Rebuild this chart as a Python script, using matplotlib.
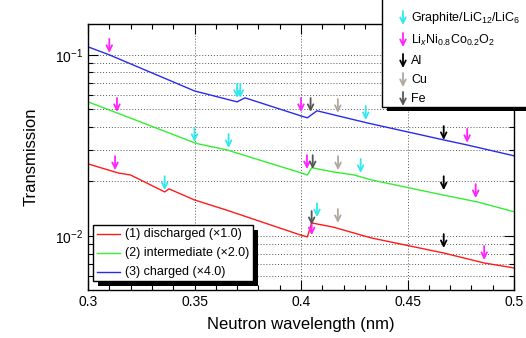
import numpy as np
import matplotlib
matplotlib.use('Agg')
import matplotlib.pyplot as plt
from matplotlib.patches import Rectangle, FancyArrowPatch
from matplotlib.ticker import MultipleLocator, LogLocator, NullFormatter, FuncFormatter

plt.rcParams['font.family'] = ['Liberation Sans', 'DejaVu Sans']
plt.rcParams['mathtext.fontset'] = 'custom'
plt.rcParams['mathtext.rm'] = 'Liberation Sans'
plt.rcParams['mathtext.it'] = 'Liberation Sans:italic'

# transmission spectra
x_charged = [0.300, 0.310, 0.350, 0.370, 0.3737, 0.400, 0.403, 0.4075, 0.431, 0.467, 0.478, 0.500]
y_charged = [0.1107, 0.1000, 0.0632, 0.0550, 0.0579, 0.0460, 0.0449, 0.0491, 0.0421, 0.0339, 0.0318, 0.0277]

x_inter = [0.300, 0.3136, 0.350, 0.352, 0.365, 0.400, 0.403, 0.405, 0.415, 0.425, 0.433, 0.467, 0.483, 0.500]
y_inter = [0.0550, 0.0478, 0.0327, 0.0322, 0.0299, 0.0223, 0.0217, 0.0238, 0.0226, 0.0217, 0.0204, 0.0168, 0.0154, 0.0136]

x_dis = [0.300, 0.314, 0.320, 0.336, 0.338, 0.350, 0.365, 0.400, 0.403, 0.405, 0.415, 0.433, 0.467, 0.486, 0.500]
y_dis = [0.0250, 0.0223, 0.0217, 0.0175, 0.0182, 0.0158, 0.0139, 0.0101, 0.00988, 0.0118, 0.0112, 0.00975, 0.00805, 0.00709, 0.00666]

# Bragg edge markers: (wavelength, arrow tip)
graphite_x = [0.3700, 0.3715, 0.4304, 0.350, 0.366, 0.428, 0.336, 0.4075]
graphite_y = [0.0579, 0.0579, 0.0437, 0.0331, 0.0306, 0.0223, 0.0179, 0.0127]
nco_x = [0.310, 0.400, 0.478, 0.3136, 0.4028, 0.482, 0.3127, 0.405, 0.486]
nco_y = [0.1026, 0.0484, 0.0327, 0.0484, 0.0234, 0.0162, 0.0231, 0.0101, 0.00737]
al_x = [0.467, 0.467, 0.467]
al_y = [0.0339, 0.0179, 0.00858]
cu_x = [0.4173, 0.4174, 0.4173]
cu_y = [0.0478, 0.0231, 0.0118]
fe_x = [0.4045, 0.4055, 0.405]
fe_y = [0.0484, 0.0234, 0.0115]

series_labels = ['(1) discharged (\u00d71.0)', '(2) intermediate (\u00d72.0)', '(3) charged (\u00d74.0)']
series_colors = ['#ff1a1a', '#33ee33', '#2a2aee']

marker_labels = [r'Graphite/LiC$_{12}$/LiC$_{6}$', r'Li$_{x}$Ni$_{0.8}$Co$_{0.2}$O$_{2}$', 'Al', 'Cu', 'Fe']
marker_colors = ['#30e8f0', '#ff22ff', '#000000', '#b0a8a0', '#555555']

W, H = 526, 338
fig = plt.figure(figsize=(W / 100, H / 100), dpi=100)
ax = fig.add_axes([88 / W, 1 - 290 / H, (514 - 88) / W, (290 - 24) / H])

for xs, ys, c in zip([x_dis, x_inter, x_charged], [y_dis, y_inter, y_charged], series_colors):
    ax.plot(xs, ys, color=c, lw=1.0)

arrow_sets = [(graphite_x, graphite_y), (nco_x, nco_y), (al_x, al_y), (cu_x, cu_y), (fe_x, fe_y)]
for (xs, ys), c in zip(arrow_sets, marker_colors):
    for xv, yv in zip(xs, ys):
        ax.annotate('', xy=(xv, yv), xytext=(0, 10), textcoords='offset points',
                    arrowprops=dict(arrowstyle='->', color=c, lw=1.3, mutation_scale=10,
                                    shrinkA=0, shrinkB=0))

ax.set_xlim(0.3, 0.5)
ax.set_yscale('log')
ax.set_ylim(0.00503, 0.148)
ax.xaxis.set_major_locator(MultipleLocator(0.05))
ax.xaxis.set_minor_locator(MultipleLocator(0.01))
ax.xaxis.set_major_formatter(FuncFormatter(lambda v, p: '%g' % round(v, 3)))
ax.yaxis.set_major_locator(LogLocator(base=10))
ax.yaxis.set_minor_locator(LogLocator(base=10, subs=np.arange(2, 10)))
ax.yaxis.set_minor_formatter(NullFormatter())
ax.tick_params(which='both', direction='in', top=True, right=True, labelsize=10)
ax.tick_params(which='major', length=7, width=0.8)
ax.tick_params(which='minor', length=3.5, width=0.8)
ax.grid(True, which='major', axis='x', ls=(0, (1, 2)), color='#555555', lw=0.7)
ax.grid(True, which='both', axis='y', ls=(0, (1, 2)), color='#555555', lw=0.7)
for s in ax.spines.values():
    s.set_linewidth(1.0)

ax.set_xlabel('Neutron wavelength (nm)', fontsize=12, labelpad=6)
ax.set_ylabel('Transmission', fontsize=12, labelpad=12)


def px(x, y):
    return x / W, 1 - y / H


# lower-left legend (ROOT style box with shadow)
fig.add_artist(Rectangle(px(98, 286), 160 / W, 56 / H, transform=fig.transFigure,
                         facecolor='black', edgecolor='none', zorder=5))
fig.add_artist(Rectangle(px(93, 281), 160 / W, 56 / H, transform=fig.transFigure,
                         facecolor='white', edgecolor='black', lw=1.0, zorder=6))
for i, (lab, c) in enumerate(zip(series_labels, series_colors)):
    yy = 234 + 19 * i
    fig.add_artist(plt.Line2D([97 / W, 120 / W], [1 - yy / H] * 2, color=c, lw=1.0, zorder=7))
    fig.text(125 / W, 1 - yy / H, lab, fontsize=9, va='center', ha='left', zorder=7)

# upper-right legend for the markers
fig.add_artist(Rectangle(px(387, 111), 150 / W, 120 / H, transform=fig.transFigure,
                         facecolor='black', edgecolor='none', zorder=5))
fig.add_artist(Rectangle(px(382, 107), 150 / W, 120 / H, transform=fig.transFigure,
                         facecolor='white', edgecolor='black', lw=1.0, zorder=6))
rows = [18, 40, 61, 80, 99]
for yy, lab, c in zip(rows, marker_labels, marker_colors):
    fig.add_artist(FancyArrowPatch(px(403, yy - 7), px(403, yy + 7), transform=fig.transFigure,
                                   arrowstyle='->', color=c, lw=1.3, mutation_scale=10,
                                   shrinkA=0, shrinkB=0, zorder=8))
    fig.text(411 / W, 1 - yy / H, lab, fontsize=9, va='center', ha='left', zorder=8)

fig.savefig('out.png', dpi=100)
